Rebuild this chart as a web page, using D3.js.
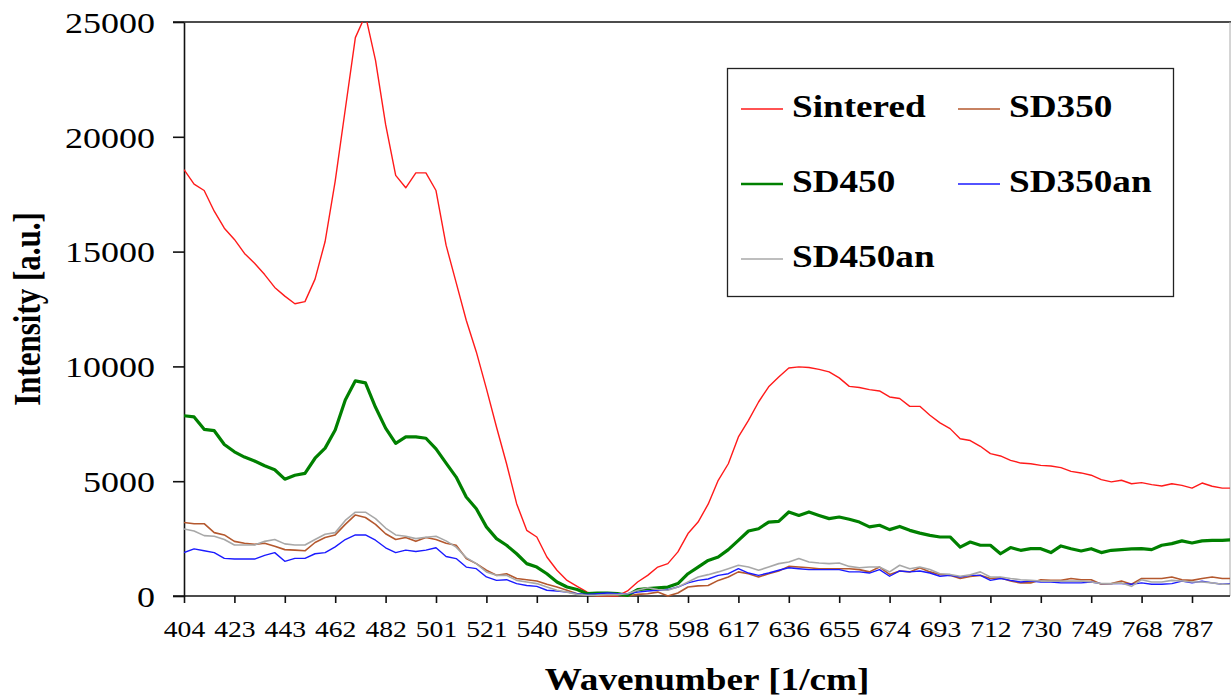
<!DOCTYPE html>
<html>
<head>
<meta charset="utf-8">
<script src="https://cdn.jsdelivr.net/npm/d3@7"></script>
<style>
  html, body { margin: 0; padding: 0; background: #fff; }
  svg { display: block; font-family: "Liberation Serif", "Times New Roman", serif; }
</style>
</head>
<body>
<svg id="chart" width="1231" height="699"></svg>
<script>
// category labels shown on the x axis (one every 5 samples)
const wavenumberLabels = ["404", "423", "443", "462", "482", "501", "521", "540", "559", "578",
  "598", "617", "636", "655", "674", "693", "712", "730", "749", "768", "787"];
const samplesPerLabel = 5;

const seriesNames = ["Sintered", "SD350", "SD450", "SD350an", "SD450an"];
const yTicks = [0, 5000, 10000, 15000, 20000, 25000];

// intensities, one sample per 1/5 label interval
const sintered = [18570, 17940, 17660, 16760, 16020, 15530, 14920, 14490, 14000, 13440,
  13060, 12730, 12820, 13800, 15440, 18070, 21200, 24320, 25300, 23330,
  20540, 18320, 17780, 18430, 18430, 17660, 15280, 13650, 12010, 10630,
  9030, 7360, 5760, 4020, 2860, 2570, 1700, 1120, 680, 420,
  170, 0, 0, 0, 220, 610, 900, 1260, 1410, 1920,
  2720, 3220, 4000, 5040, 5760, 6930, 7650, 8450, 9110, 9540,
  9930, 9980, 9950, 9870, 9760, 9500, 9130, 9080, 8990, 8930,
  8670, 8600, 8260, 8260, 7870, 7540, 7290, 6850, 6770, 6520,
  6200, 6100, 5910, 5790, 5760, 5690, 5660, 5590, 5430, 5360,
  5260, 5070, 4970, 5040, 4890, 4940, 4850, 4790, 4890, 4820,
  4700, 4920, 4780, 4700, 4700];

const sd350 = [3200, 3150, 3150, 2760, 2660, 2380, 2300, 2250, 2300, 2170,
  2020, 2000, 1970, 2330, 2550, 2660, 3120, 3530, 3420, 3120,
  2710, 2460, 2550, 2380, 2550, 2460, 2300, 2210, 1630, 1410,
  1120, 900, 970, 760, 710, 650, 510, 390, 250, 100,
  30, 0, 0, 30, 0, 70, 100, 170, 0, 130,
  390, 440, 460, 680, 830, 1050, 970, 830, 970, 1090,
  1290, 1260, 1230, 1190, 1190, 1190, 1190, 1150, 1050, 1260,
  940, 1090, 1050, 1230, 1050, 940, 900, 760, 850, 900,
  760, 800, 650, 570, 570, 710, 680, 680, 760, 710,
  710, 510, 540, 650, 510, 760, 760, 760, 830, 710,
  680, 760, 830, 760, 760];

const sd450 = [7850, 7800, 7260, 7200, 6600, 6280, 6050, 5880, 5670, 5500,
  5090, 5260, 5340, 6000, 6440, 7230, 8540, 9370, 9280, 8220,
  7310, 6650, 6930, 6930, 6870, 6410, 5790, 5180, 4310, 3800,
  3010, 2500, 2210, 1840, 1410, 1260, 970, 610, 390, 280,
  100, 130, 130, 100, 30, 280, 320, 360, 390, 540,
  970, 1260, 1550, 1700, 2020, 2420, 2830, 2930, 3220, 3250,
  3660, 3510, 3660, 3510, 3370, 3440, 3340, 3220, 3010, 3080,
  2890, 3030, 2860, 2740, 2640, 2570, 2570, 2130, 2350, 2210,
  2210, 1840, 2110, 1990, 2060, 2060, 1890, 2180, 2060, 1960,
  2060, 1890, 1990, 2020, 2050, 2060, 2020, 2210, 2280, 2400,
  2310, 2400, 2420, 2420, 2450];

const sd350an = [1890, 2050, 1970, 1890, 1640, 1610, 1610, 1610, 1770, 1890,
  1510, 1640, 1640, 1840, 1890, 2140, 2460, 2660, 2660, 2430,
  2100, 1890, 2000, 1940, 2000, 2100, 1720, 1630, 1260, 1190,
  830, 680, 710, 540, 460, 420, 250, 220, 170, 100,
  70, 100, 130, 100, 100, 170, 220, 250, 280, 390,
  570, 680, 740, 900, 970, 1190, 1000, 900, 1000, 1120,
  1230, 1190, 1150, 1150, 1150, 1150, 1050, 1050, 1000, 1150,
  860, 1090, 1050, 1090, 1000, 860, 900, 830, 900, 900,
  680, 760, 680, 610, 650, 610, 610, 570, 570, 570,
  610, 540, 540, 540, 510, 570, 510, 510, 540, 650,
  570, 640, 570, 510, 540];

const sd450an = [2920, 2830, 2630, 2600, 2460, 2220, 2220, 2220, 2380, 2460,
  2270, 2220, 2220, 2460, 2690, 2760, 3290, 3650, 3650, 3370,
  2960, 2660, 2600, 2500, 2560, 2600, 2400, 2130, 1670, 1410,
  1050, 900, 900, 680, 610, 540, 390, 250, 170, 70,
  30, 30, 60, 60, 100, 250, 360, 280, 250, 390,
  610, 830, 930, 1050, 1190, 1340, 1260, 1120, 1260, 1410,
  1480, 1630, 1480, 1440, 1410, 1440, 1290, 1230, 1260, 1260,
  1050, 1340, 1190, 1260, 1150, 970, 940, 860, 920, 1050,
  830, 830, 760, 710, 680, 650, 650, 650, 650, 650,
  610, 540, 540, 570, 420, 710, 610, 610, 680, 650,
  610, 610, 570, 510, 510];

const seriesValues = [sintered, sd350, sd450, sd350an, sd450an];
const seriesColors = ["#ff1a1a", "#b4582e", "#008000", "#1a1aff", "#a8a8a8"];
const seriesWidths = [1.4, 1.6, 3.2, 1.4, 1.6];

const svg = d3.select("#chart");
const plotLeft = 184, plotRight = 1230, plotTop = 22, plotBottom = 596;
const labelStep = 50.4; // px between category labels
const stretch = 1.2;    // the original text is wider than it is tall

const x = d3.scaleLinear()
  .domain([0, samplesPerLabel * (wavenumberLabels.length - 1)])
  .range([plotLeft, plotLeft + labelStep * (wavenumberLabels.length - 1)]);
const y = d3.scaleLinear().domain([0, 25000]).range([plotBottom, plotTop]);

svg.append("rect").attr("width", 1231).attr("height", 699).attr("fill", "#fff");

// frame: top border black, right border light grey
svg.append("line")
  .attr("x1", plotLeft - 11).attr("x2", plotRight + 1).attr("y1", plotTop).attr("y2", plotTop)
  .attr("stroke", "#111").attr("stroke-width", 1.6);
svg.append("line")
  .attr("x1", plotRight).attr("x2", plotRight).attr("y1", plotTop).attr("y2", plotBottom)
  .attr("stroke", "#aaa").attr("stroke-width", 1);

// y axis
const yAxis = svg.append("g")
  .attr("transform", `translate(${plotLeft},0)`)
  .call(d3.axisLeft(y).tickValues(yTicks).tickSize(11).tickSizeOuter(0).tickFormat(d3.format("d")));
yAxis.select(".domain").attr("stroke", "#111").attr("stroke-width", 1.6);
yAxis.selectAll(".tick line").attr("stroke", "#111").attr("stroke-width", 1.6);
yAxis.selectAll(".tick text")
  .attr("x", -29 / stretch)
  .attr("dy", "0.34em")
  .attr("transform", `scale(${stretch},1)`)
  .attr("font-size", 30)
  .attr("font-family", "Liberation Serif, serif")
  .attr("fill", "#000");

// x axis (category labels every 5 samples)
const xAxis = svg.append("g")
  .attr("transform", `translate(0,${plotBottom})`)
  .call(d3.axisBottom(x)
    .tickValues(wavenumberLabels.map((d, i) => i * samplesPerLabel))
    .tickFormat((d, i) => wavenumberLabels[i])
    .tickSize(7).tickSizeOuter(0));
xAxis.select(".domain").remove();
xAxis.append("line")
  .attr("x1", plotLeft - 11).attr("x2", plotRight).attr("y1", 0).attr("y2", 0)
  .attr("stroke", "#111").attr("stroke-width", 1.6);
xAxis.selectAll(".tick line").attr("stroke", "#111").attr("stroke-width", 1.6);
xAxis.selectAll(".tick text")
  .attr("y", 41.5)
  .attr("dy", 0)
  .attr("transform", "scale(1.15,1)")
  .attr("font-size", 24)
  .attr("font-family", "Liberation Serif, serif")
  .attr("fill", "#000");

// axis titles
svg.append("text")
  .attr("transform", `translate(${(plotLeft + plotRight) / 2},690) scale(${stretch},1)`)
  .attr("text-anchor", "middle")
  .attr("font-size", 31)
  .attr("font-weight", "bold")
  .text("Wavenumber [1/cm]");

svg.append("text")
  .attr("transform", `translate(40,309) scale(${stretch},1) rotate(-90)`)
  .attr("text-anchor", "middle")
  .attr("font-size", 31)
  .attr("font-weight", "bold")
  .text("Intensity [a.u.]");

// series
svg.append("clipPath").attr("id", "plot-clip")
  .append("rect")
  .attr("x", plotLeft).attr("y", plotTop)
  .attr("width", plotRight - plotLeft).attr("height", plotBottom - plotTop + 2);

const line = d3.line()
  .x((d, i) => x(i))
  .y(d => y(d));

svg.append("g")
  .attr("clip-path", "url(#plot-clip)")
  .selectAll("path")
  .data(seriesValues)
  .join("path")
  .attr("d", line)
  .attr("fill", "none")
  .attr("stroke", (d, i) => seriesColors[i])
  .attr("stroke-width", (d, i) => seriesWidths[i])
  .attr("stroke-linejoin", "round");

// legend
const legend = svg.append("g");
legend.append("rect")
  .attr("x", 727.5).attr("y", 68.5)
  .attr("width", 446).attr("height", 228)
  .attr("fill", "#fff").attr("stroke", "#222").attr("stroke-width", 1.3);

const items = legend.selectAll("g.item")
  .data(seriesNames)
  .join("g")
  .attr("class", "item")
  .attr("transform", (d, i) => `translate(${741 + (i % 2) * 217},${109 + Math.floor(i / 2) * 75})`);
items.append("line")
  .attr("x1", 0).attr("x2", 42)
  .attr("stroke", (d, i) => seriesColors[i])
  .attr("stroke-width", (d, i) => Math.min(seriesWidths[i], 2.6));
items.append("text")
  .attr("transform", `translate(51,8) scale(${stretch},1)`)
  .attr("font-size", 31)
  .attr("font-weight", "bold")
  .text(d => d);
</script>
</body>
</html>
